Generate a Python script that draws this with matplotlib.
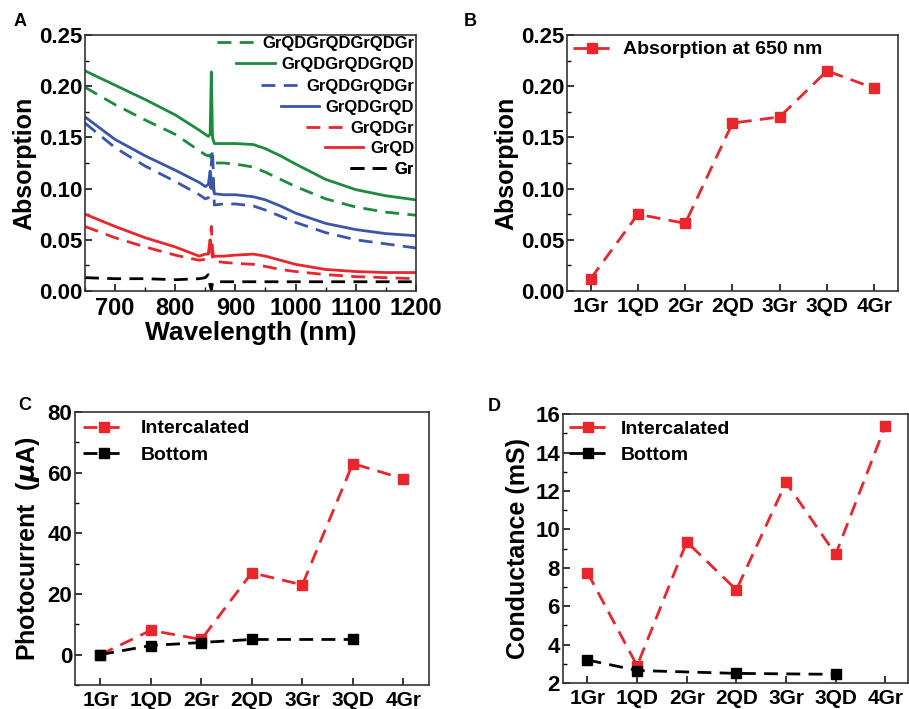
import numpy as np
import matplotlib
matplotlib.use('Agg')
import matplotlib.pyplot as plt
from matplotlib.ticker import MultipleLocator

plt.rcParams['font.family'] = ['Liberation Sans', 'DejaVu Sans']
plt.rcParams['font.weight'] = 'bold'
plt.rcParams['axes.labelweight'] = 'bold'
plt.rcParams['mathtext.default'] = 'it'

RED = '#e8262c'
GREEN = '#1d8a3e'
BLUE = '#3a56a8'

# panel A: absorption spectra
wavelength = [650, 700, 750, 800, 840, 850, 855, 858, 860, 862, 865, 880, 900,
              930, 950, 975, 1000, 1050, 1100, 1150, 1200]
abs_grqd3gr = [0.199, 0.182, 0.167, 0.153, 0.137, 0.133, 0.132, 0.133, 0.128, 0.125, 0.125,
               0.125, 0.124, 0.121, 0.116, 0.109, 0.102, 0.090, 0.082, 0.077, 0.074]
abs_grqd3 = [0.215, 0.201, 0.187, 0.172, 0.157, 0.153, 0.151, 0.153, 0.214, 0.150, 0.144,
             0.144, 0.144, 0.143, 0.139, 0.132, 0.124, 0.109, 0.099, 0.093, 0.089]
abs_grqd2gr = [0.164, 0.140, 0.122, 0.107, 0.094, 0.090, 0.091, 0.095, 0.124, 0.138, 0.084,
               0.085, 0.085, 0.083, 0.079, 0.073, 0.067, 0.057, 0.050, 0.046, 0.042]
abs_grqd2 = [0.170, 0.148, 0.132, 0.118, 0.106, 0.102, 0.104, 0.117, 0.100, 0.110, 0.095,
             0.094, 0.094, 0.092, 0.089, 0.083, 0.076, 0.066, 0.060, 0.056, 0.054]
abs_grqdgr = [0.063, 0.052, 0.043, 0.035, 0.030, 0.031, 0.032, 0.048, 0.063, 0.040, 0.029,
              0.028, 0.027, 0.026, 0.024, 0.021, 0.019, 0.016, 0.014, 0.013, 0.012]
abs_grqd = [0.075, 0.063, 0.052, 0.043, 0.034, 0.036, 0.036, 0.050, 0.040, 0.033, 0.034,
            0.034, 0.035, 0.036, 0.034, 0.030, 0.026, 0.021, 0.019, 0.018, 0.018]
abs_gr = [0.013, 0.012, 0.012, 0.011, 0.012, 0.013, 0.016, 0.005, 0.001, 0.008, 0.009,
          0.009, 0.009, 0.009, 0.009, 0.009, 0.009, 0.009, 0.009, 0.009, 0.009]

# panels B-D
layers = ['1Gr', '1QD', '2Gr', '2QD', '3Gr', '3QD', '4Gr']
abs_650 = [0.012, 0.075, 0.066, 0.164, 0.170, 0.215, 0.198]
photo_inter = [0, 8, 5, 27, 23, 63, 58]
photo_bottom_idx = [0, 1, 2, 3, 5]
photo_bottom = [0, 3, 4, 5, 5]
cond_inter = [7.75, 2.9, 9.35, 6.85, 12.45, 8.7, 15.4]
cond_bottom_idx = [0, 1, 3, 5]
cond_bottom = [3.2, 2.65, 2.5, 2.45]

fig = plt.figure(figsize=(9.09, 7.09), dpi=100)
axA = fig.add_axes([0.0935, 0.5896, 0.364, 0.361])
axB = fig.add_axes([0.6238, 0.5896, 0.364, 0.361])
axC = fig.add_axes([0.0825, 0.0339, 0.389, 0.385])
axD = fig.add_axes([0.619, 0.0367, 0.3795, 0.379])


def style(ax, ysize=16, xsize=15):
    for s in ax.spines.values():
        s.set_linewidth(1.2)
        s.set_color('#333333')
    ax.tick_params(which='both', direction='in', top=False, right=False)
    ax.tick_params(which='major', length=5, width=1.1)
    ax.tick_params(which='minor', length=3, width=1.0)
    ax.tick_params(axis='y', labelsize=ysize, pad=2)
    ax.tick_params(axis='x', labelsize=xsize, pad=4)


dash = (0, (5, 3))
lw = 2.0

# ---- A ----
series = [
    (abs_grqd3gr, GREEN, dash, 'GrQDGrQDGrQDGr'),
    (abs_grqd3, GREEN, '-', 'GrQDGrQDGrQD'),
    (abs_grqd2gr, BLUE, dash, 'GrQDGrQDGr'),
    (abs_grqd2, BLUE, '-', 'GrQDGrQD'),
    (abs_grqdgr, RED, dash, 'GrQDGr'),
    (abs_grqd, RED, '-', 'GrQD'),
    (abs_gr, 'black', dash, 'Gr'),
]
handles = []
for vals, c, ls, lab in series:
    h, = axA.plot(wavelength, vals, color=c, ls=ls, lw=lw, label=lab)
    handles.append(h)
axA.set_xlim(650, 1200)
axA.set_ylim(0, 0.25)
axA.xaxis.set_major_locator(MultipleLocator(100))
axA.xaxis.set_minor_locator(MultipleLocator(50))
axA.yaxis.set_major_locator(MultipleLocator(0.05))
axA.yaxis.set_minor_locator(MultipleLocator(0.025))
axA.yaxis.set_major_formatter(plt.FormatStrFormatter('%.2f'))
style(axA, 16, 17)
axA.set_xlabel('Wavelength (nm)', fontsize=19, labelpad=1)
axA.set_ylabel('Absorption', fontsize=18, labelpad=2)
# right-aligned legend rows, one small legend per entry
row_px = [43, 64.5, 86, 107, 128, 148.5, 169.5]
for h, py in zip(handles, row_px):
    leg = axA.legend([h], [h.get_label()], loc='center right',
                     bbox_to_anchor=(0.995, 1 - (py - 35) / 256),
                     frameon=False, fontsize=12, handlelength=2.3,
                     handletextpad=0.4, borderaxespad=0, borderpad=0)
    axA.add_artist(leg)

# ---- B ----
x = np.arange(len(layers))
axB.plot(x, abs_650, color=RED, ls=dash, lw=lw, marker='s', ms=7,
         label='Absorption at 650 nm')
axB.set_xlim(-0.5, 6.5)
axB.set_ylim(0, 0.25)
axB.set_xticks(x)
axB.set_xticklabels(layers)
axB.yaxis.set_major_locator(MultipleLocator(0.05))
axB.yaxis.set_minor_locator(MultipleLocator(0.025))
axB.yaxis.set_major_formatter(plt.FormatStrFormatter('%.2f'))
style(axB, 16, 15)
axB.set_ylabel('Absorption', fontsize=18, labelpad=2)
axB.legend(loc='upper left', frameon=False, fontsize=14, handlelength=2.0,
           handletextpad=0.6, borderaxespad=0.1, borderpad=0.2)

# ---- C ----
axC.plot(x, photo_inter, color=RED, ls=dash, lw=lw, marker='s', ms=7,
         label='Intercalated')
axC.plot(photo_bottom_idx, photo_bottom, color='black', ls=dash, lw=lw,
         marker='s', ms=7, label='Bottom')
axC.set_xlim(-0.5, 6.5)
axC.set_ylim(-10, 80)
axC.set_xticks(x)
axC.set_xticklabels(layers)
axC.yaxis.set_major_locator(MultipleLocator(20))
axC.yaxis.set_minor_locator(MultipleLocator(10))
style(axC, 16, 15)
axC.set_ylabel(r'Photocurrent  ($\mu$A)', fontsize=18, labelpad=4)
axC.legend(loc='upper left', frameon=False, fontsize=14, handlelength=2.2,
           handletextpad=0.8, labelspacing=0.45, borderaxespad=0.1, borderpad=0.3)

# ---- D ----
axD.plot(x, cond_inter, color=RED, ls=dash, lw=lw, marker='s', ms=7,
         label='Intercalated')
axD.plot(cond_bottom_idx, cond_bottom, color='black', ls=dash, lw=lw,
         marker='s', ms=7, label='Bottom')
axD.set_xlim(-0.5, 6.45)
axD.set_ylim(2, 16)
axD.set_xticks(x)
axD.set_xticklabels(layers)
axD.yaxis.set_major_locator(MultipleLocator(2))
axD.yaxis.set_minor_locator(MultipleLocator(1))
style(axD, 16, 15)
axD.set_ylabel('Conductance (mS)', fontsize=18, labelpad=4)
axD.legend(loc='upper left', frameon=False, fontsize=14, handlelength=2.0,
           handletextpad=0.7, labelspacing=0.45, borderaxespad=0.05, borderpad=0.25)

# panel letters
for lab, px, py in [('A', 14, 26), ('B', 464, 26), ('C', 18, 410), ('D', 488, 411)]:
    fig.text(px / 909, 1 - py / 709, lab, fontsize=13, fontweight='bold')

fig.savefig('out.png', dpi=100)
